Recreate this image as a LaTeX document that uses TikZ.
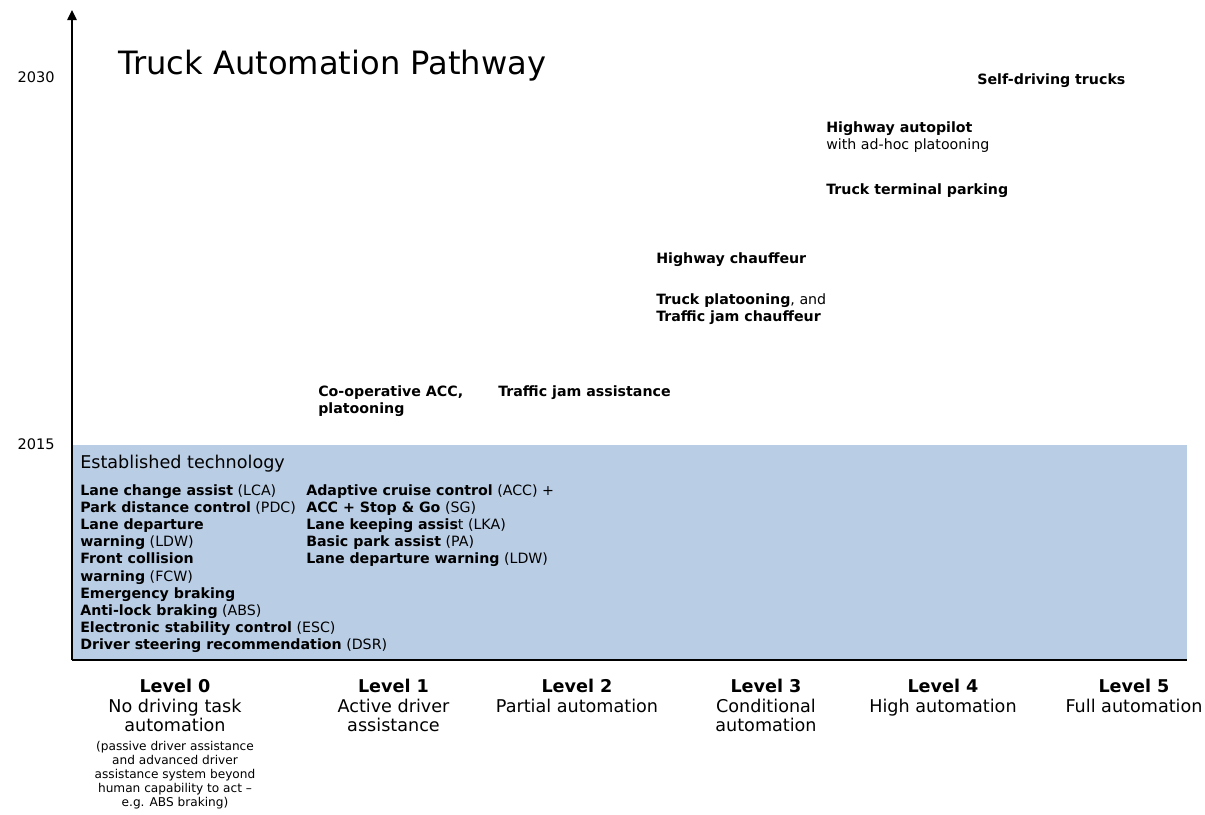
\documentclass[tikz,border=0pt]{standalone}
\usepackage{fontspec}
\setmainfont{DejaVu Sans}
\usetikzlibrary{arrows.meta}
\definecolor{EstBlue}{HTML}{B9CDE5}

\begin{document}
% multi-line nodes sit on the baseline of their last line
\begin{tikzpicture}[x=0.75pt, y=-0.75pt,
YearStyle/.style={anchor=base east, inner sep=0pt,
                font=\fontsize{10.9}{13}\selectfont},
TechStyle/.style={anchor=base west, inner sep=0pt, align=left,
                font=\fontsize{10.65}{12.9}\selectfont},
LevelStyle/.style={anchor=base, inner sep=0pt, align=center,
                font=\fontsize{13.2}{14.6}\selectfont},
NoteStyle/.style={anchor=base, inner sep=0pt, align=center,
                font=\fontsize{9.1}{10.5}\selectfont},]
\useasboundingbox (0,0) rectangle (1205,814);
\coordinate (origin) at (72,660);
\coordinate (ytop) at (72,10);
\coordinate (xend) at (1187,660);
% established technology band
\fill [EstBlue] (origin) rectangle (1187,445);
\draw [line width=1.1pt] (origin) -- (xend);
\draw [line width=1.1pt, -{Triangle[length=7.5pt, width=7pt]}] (origin) -- (ytop);
\node [YearStyle] (y2030) at (55,82) {2030};
\node [YearStyle] (y2015) at (55,449) {2015};
\node [anchor=base west, inner sep=0pt, font=\fontsize{24.1}{28}\selectfont]
      (title) at (118,74) {Truck Automation Pathway};
\node [anchor=base west, inner sep=0pt, font=\fontsize{13.2}{15}\selectfont]
      (estab) at (80,468) {Established technology};
\node [TechStyle] (tech0) at (80,649.8) {\textbf{Lane change assist} (LCA)\\
  \textbf{Park distance control} (PDC)\\ \textbf{Lane departure}\\
  \textbf{warning} (LDW)\\ \textbf{Front collision}\\ \textbf{warning} (FCW)\\
  \textbf{Emergency braking}\\ \textbf{Anti-lock braking} (ABS)\\
  \textbf{Electronic stability control} (ESC)\\
  \textbf{Driver steering recommendation} (DSR)};
\node [TechStyle] (tech1) at (306,563.8) {\textbf{Adaptive cruise control} (ACC) +\\
  \textbf{ACC + Stop \& Go} (SG)\\ \textbf{Lane keeping assis}t (LKA)\\
  \textbf{Basic park assist} (PA)\\ \textbf{Lane departure warning} (LDW)};
% future functions
\node [TechStyle] (coacc) at (318,413.2) {\textbf{Co-operative ACC,}\\ \textbf{platooning}};
\node [TechStyle] (tjassist) at (498,396) {\textbf{Traffic jam assistance}};
\node [TechStyle] (hwchauf) at (656,263.5) {\textbf{Highway chauffeur}};
\node [TechStyle] (trplat) at (656,321.7) {\textbf{Truck platooning}, and\\
  \textbf{Traffic jam chauffeur}};
\node [TechStyle] (termpark) at (826,194) {\textbf{Truck terminal parking}};
\node [TechStyle] (hwauto) at (826,149.2) {\textbf{Highway autopilot}\\ with ad-hoc platooning};
\node [TechStyle] (selfdrive) at (977,84) {\textbf{Self-driving trucks}};
% levels
\node [LevelStyle] (lvl0) at (175,731.5) {\textbf{Level 0}\\ No driving task\\ automation};
\node [NoteStyle] (lvl0note) at (175,806) {(passive driver assistance\\
  and advanced driver\\ assistance system beyond\\ human capability to act --\\
  e.g. ABS braking)};
\node [LevelStyle] (lvl1) at (393.5,731.5) {\textbf{Level 1}\\ Active driver\\ assistance};
\node [LevelStyle] (lvl2) at (577,712) {\textbf{Level 2}\\ Partial automation};
\node [LevelStyle] (lvl3) at (766,731.5) {\textbf{Level 3}\\ Conditional\\ automation};
\node [LevelStyle] (lvl4) at (943,712) {\textbf{Level 4}\\ High automation};
\node [LevelStyle] (lvl5) at (1134,712) {\textbf{Level 5}\\ Full automation};
\end{tikzpicture}
\end{document}
